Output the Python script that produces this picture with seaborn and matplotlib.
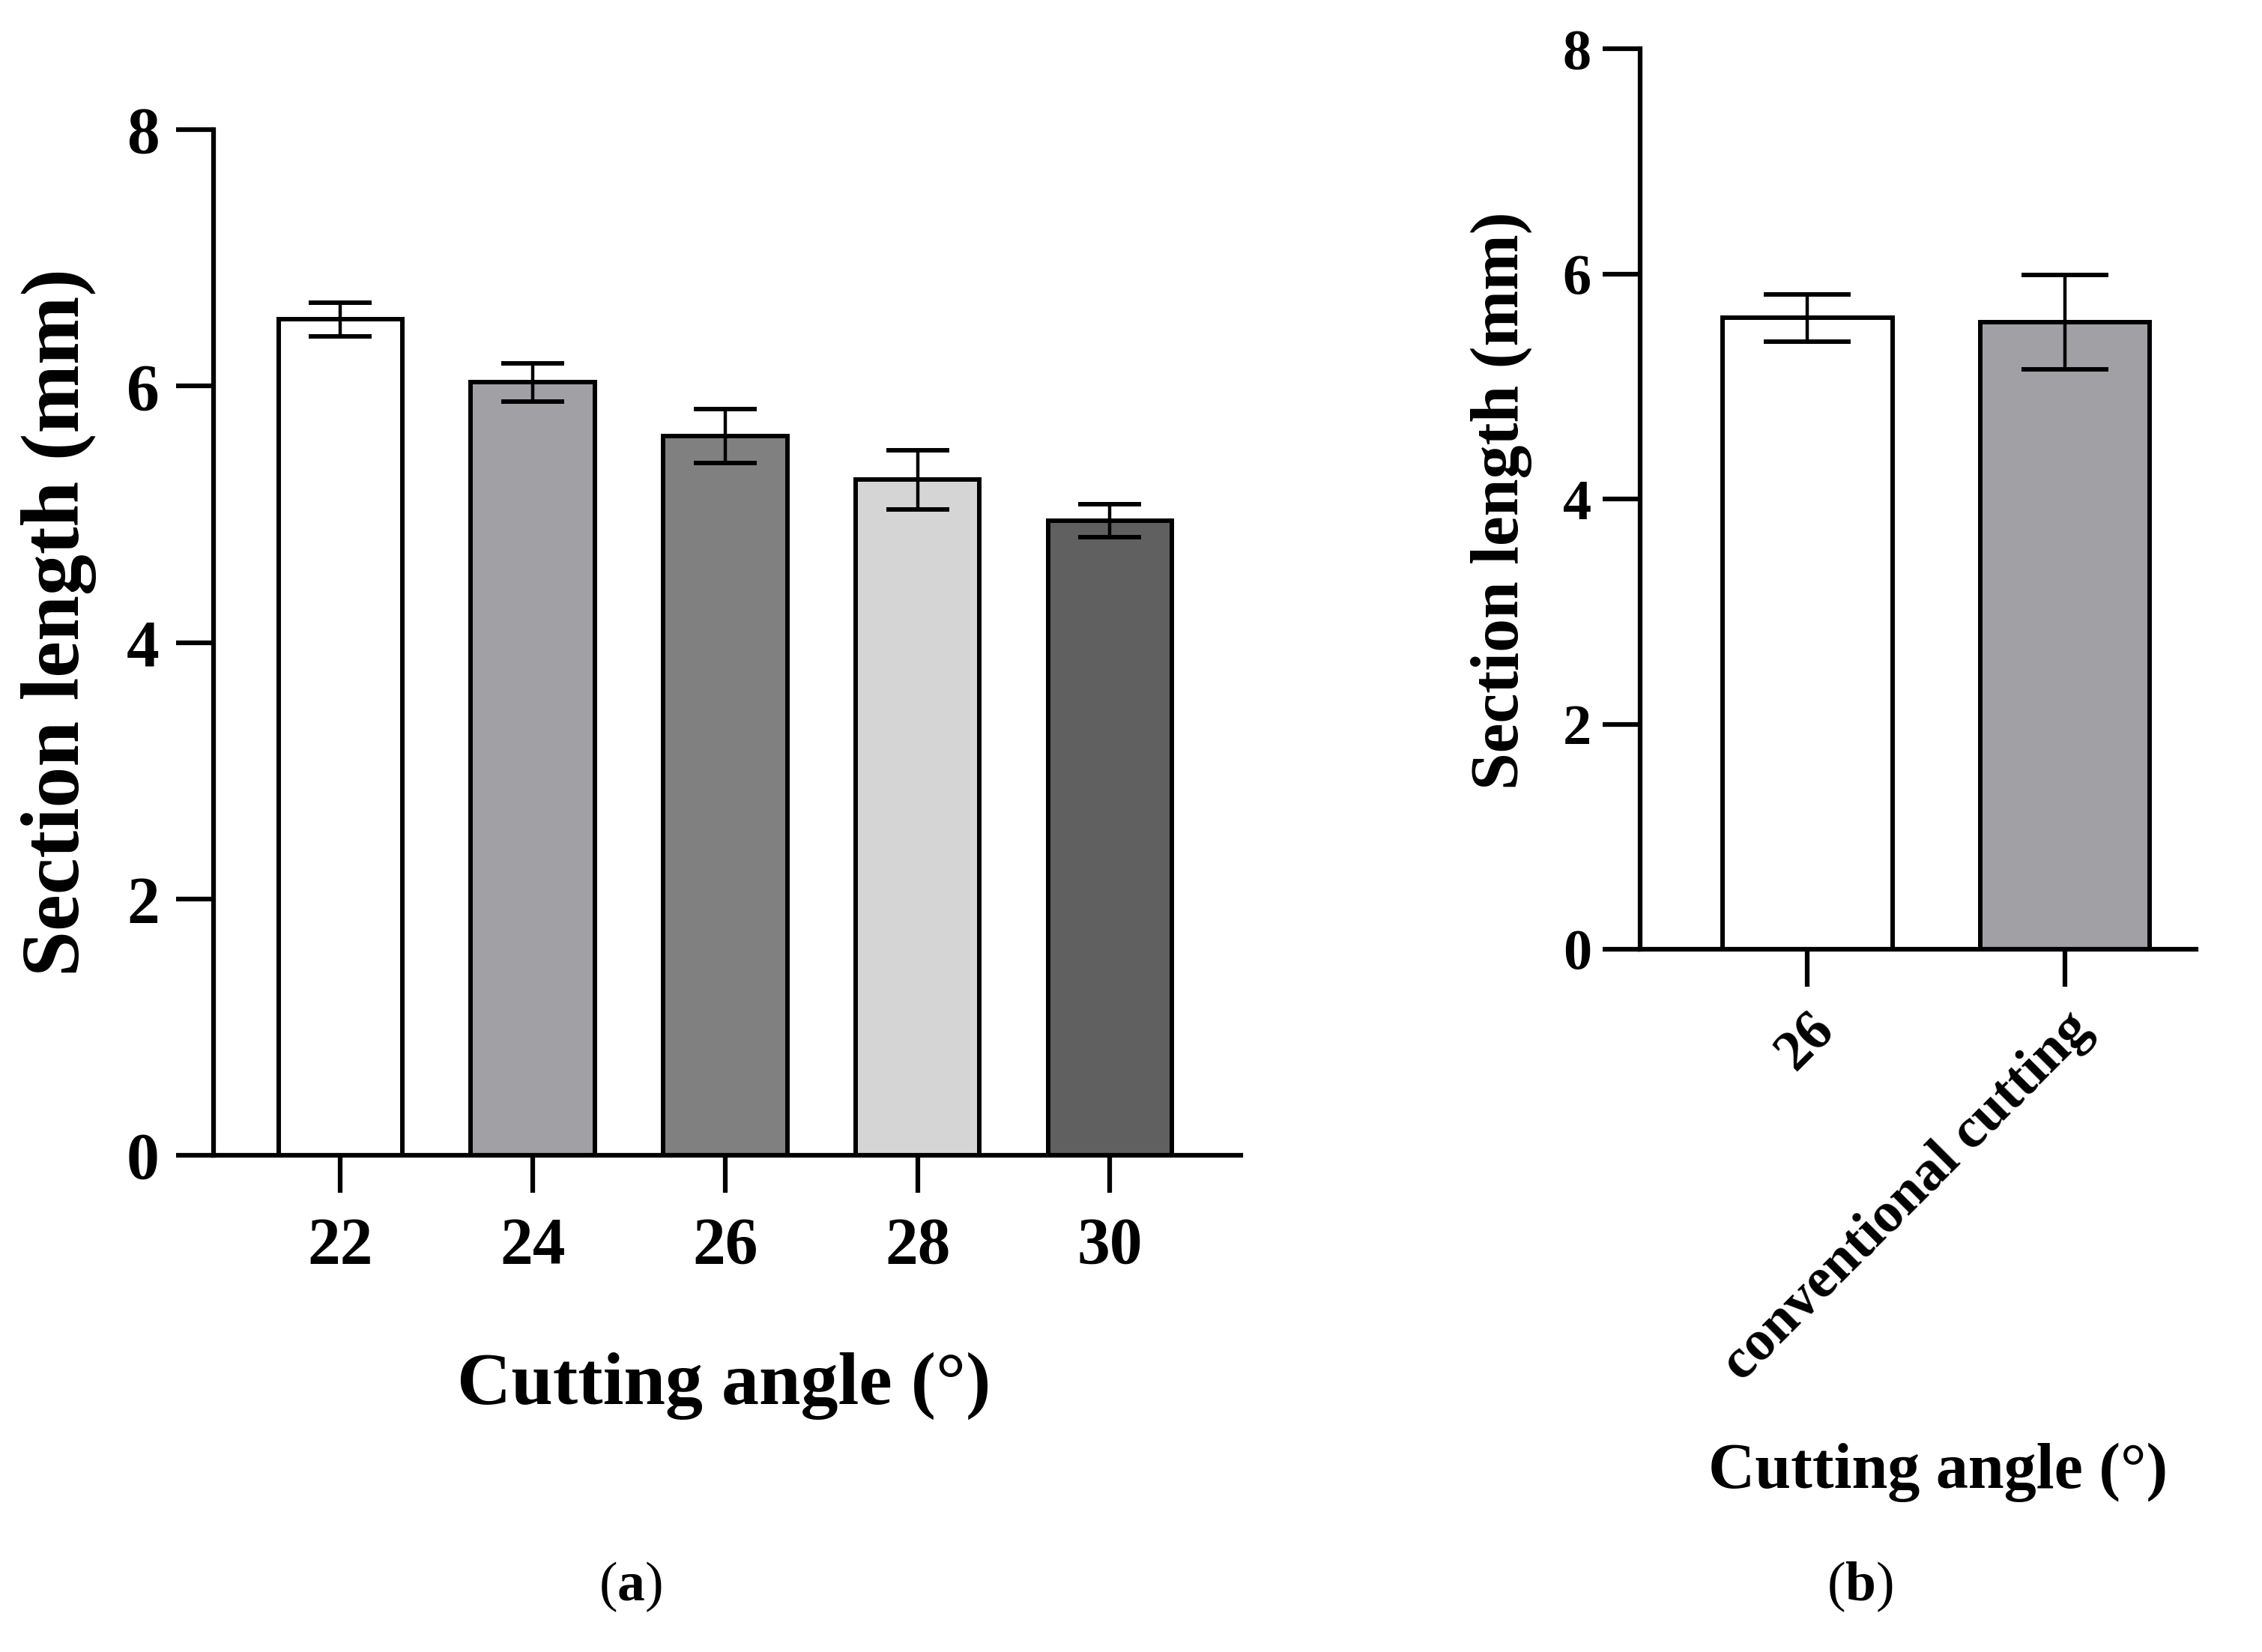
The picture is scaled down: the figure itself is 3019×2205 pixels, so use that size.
import numpy as np
import pandas as pd
import matplotlib
matplotlib.use("Agg")
import matplotlib.pyplot as plt
import seaborn as sns

# ---------------- data ----------------
angles_a = ["22", "24", "26", "28", "30"]
means_a = [6.52, 6.03, 5.61, 5.27, 4.95]
sds_a = [0.13, 0.15, 0.21, 0.23, 0.13]
colors_a = ["#ffffff", "#a1a1a5", "#808080", "#d5d5d5", "#606060"]

groups_b = ["26", "conventional cutting"]
means_b = [5.61, 5.57]
sds_b = [0.21, 0.42]
colors_b = ["#ffffff", "#a1a1a5"]

yticks = [0, 2, 4, 6, 8]
ylabel = "Section length (mm)"
xlabel = "Cutting angle (°)"

# ---------------- style ----------------
sns.set_style("ticks")
plt.rcParams["font.family"] = ["Liberation Serif", "DejaVu Serif"]
plt.rcParams["font.weight"] = "bold"
plt.rcParams["text.color"] = "black"
plt.rcParams["axes.labelcolor"] = "black"
plt.rcParams["xtick.color"] = "black"
plt.rcParams["ytick.color"] = "black"
plt.rcParams["axes.edgecolor"] = "black"
plt.rcParams["mathtext.fontset"] = "custom"
plt.rcParams["mathtext.rm"] = "Liberation Serif"
plt.rcParams["mathtext.bf"] = "Liberation Serif:bold"

fig = plt.figure(figsize=(30.19, 22.05), dpi=100)
axA = fig.add_axes([0.0944, 0.3007, 0.4541, 0.6208])
axB = fig.add_axes([0.7251, 0.4254, 0.2458, 0.5451])


def draw(ax, cats, means, sds, colors, width, capsize, tick_fs, label_fs,
         xpad, ypad, xlim):
    df = pd.DataFrame({"cat": cats, "val": means})
    sns.barplot(data=df, x="cat", y="val", hue="cat", palette=colors,
                legend=False, ax=ax, width=width, edgecolor="black",
                linewidth=4.3, saturation=1, errorbar=None, zorder=2)
    for p, m, s in zip(ax.patches, means, sds):
        ax.errorbar(p.get_x() + p.get_width() / 2, m, yerr=s, fmt="none",
                    ecolor="black", elinewidth=3.2, capsize=capsize,
                    capthick=4.3, zorder=5)
    ax.set_ylim(0, 8)
    ax.set_xlim(*xlim)
    ax.set_yticks(yticks)
    ax.set_yticklabels([str(t) for t in yticks], fontsize=tick_fs,
                       fontweight="bold", color="black")
    sns.despine(ax=ax)
    for sp in ["left", "bottom"]:
        ax.spines[sp].set_linewidth(4.5)
        ax.spines[sp].set_color("black")
    ax.tick_params(axis="both", length=36, width=4.5, color="black",
                   labelcolor="black")
    ax.tick_params(axis="x", pad=xpad)
    ax.tick_params(axis="y", pad=ypad)
    ax.set_ylabel(ylabel, fontsize=label_fs, fontweight="bold", color="black")
    ax.set_xlabel(xlabel, fontsize=label_fs, fontweight="bold", color="black")


draw(axA, angles_a, means_a, sds_a, colors_a, 0.645, 30, 63, 72, 23, 16,
     (-0.66, 4.68))
for t in axA.get_xticklabels():
    t.set_fontsize(63)
    t.set_fontweight("bold")
axA.set_ylabel(ylabel, fontsize=79, fontweight="bold", color="black")
axA.yaxis.set_label_coords(-0.114, 0.5195)
axA.xaxis.set_label_coords(0.497, -0.192)

draw(axB, groups_b, means_b, sds_b, colors_b, 0.66, 42, 55, 62, 16, 11,
     (-0.65, 1.51))
axB.set_xticks(range(len(groups_b)))
axB.set_xticklabels(groups_b, rotation=45, ha="right",
                    rotation_mode="anchor", fontsize=55, fontweight="bold",
                    color="black")
axB.set_ylabel(ylabel, fontsize=64.5, fontweight="bold", color="black")
axB.yaxis.set_label_coords(-0.194, 0.498)
axB.xaxis.set_label_coords(0.535, -0.548)

# panel captions
fig.text(0.2786, 0.031, r"($\mathbf{a}$)", fontsize=53, fontweight="normal",
         ha="center", va="baseline", color="black")
fig.text(0.8221, 0.031, r"($\mathbf{b}$)", fontsize=53, fontweight="normal",
         ha="center", va="baseline", color="black")

fig.savefig("out.png", dpi=100, facecolor="white")
